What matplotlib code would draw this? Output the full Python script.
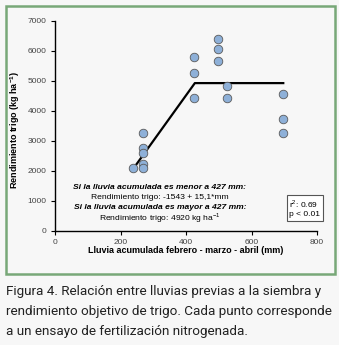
import matplotlib
matplotlib.use("Agg")
import matplotlib.pyplot as plt
from matplotlib.patches import Rectangle

# lluvia acumulada (mm) y rendimiento de trigo (kg/ha) por ensayo
lluvia = [237, 270, 270, 270, 270, 270, 425, 425, 425, 499, 499, 499, 524, 524, 697, 697, 697]
rendimiento = [2100, 3250, 2750, 2580, 2210, 2080, 5780, 5250, 4430, 6380, 6050, 5660, 4810, 4430, 4550, 3710, 3250]

# modelo lineal-meseta
quiebre = 427
intercepto = -1543
pendiente = 15.1
meseta = 4920
rango_modelo = [240, quiebre, 697]

x_ticks = [0, 200, 400, 600, 800]
y_ticks = [0, 1000, 2000, 3000, 4000, 5000, 6000, 7000]

caption = [
    "Figura 4. Relación entre lluvias previas a la siembra y",
    "rendimiento objetivo de trigo. Cada punto corresponde",
    "a un ensayo de fertilización nitrogenada.",
]

plt.rcParams["font.family"] = ["Liberation Sans", "DejaVu Sans"]

bg = "#f7f7f7"
W, H = 339, 345
fig = plt.figure(figsize=(W / 100, H / 100), dpi=100, facecolor=bg)

# marco verde del grafico
fig.patches.append(Rectangle((6 / W, 1 - 274 / H), 329 / W, 268 / H, transform=fig.transFigure,
                             fill=False, edgecolor="#78a878", linewidth=1.8))

ax = fig.add_axes([55 / W, 1 - 230.7 / H, 262 / W, 210 / H])
ax.set_facecolor(bg)

modelo = [intercepto + pendiente * rango_modelo[0], meseta, meseta]
ax.plot(rango_modelo, modelo, color="black", lw=1.6, zorder=2)
ax.scatter(lluvia, rendimiento, s=38, color="#8eb0d8", edgecolor="#5a5a5a", linewidth=0.6, zorder=3)

ax.set_xlim(0, 800)
ax.set_ylim(0, 7000)
ax.set_xticks(x_ticks)
ax.set_yticks(y_ticks)
ax.tick_params(labelsize=6, labelcolor="#444444", length=3, width=0.8, pad=3)
for s in ["top", "right"]:
    ax.spines[s].set_visible(False)
for s in ["left", "bottom"]:
    ax.spines[s].set_linewidth(1.0)

ax.set_xlabel("Lluvia acumulada febrero - marzo - abril (mm)", fontsize=6.5, fontweight="bold")
ax.set_ylabel("Rendimiento trigo (kg ha$^{\\mathregular{-1}}$)", fontsize=6.5, fontweight="bold")
ax.xaxis.set_label_coords(0.5, -0.075)
ax.yaxis.set_label_coords(-0.126, 0.48)

# ecuaciones del modelo
tx = 320
ax.text(tx, 1430, "Si la lluvia acumulada es menor a 427 mm:", fontsize=6.1, style="italic",
        fontweight="bold", ha="center", va="center")
ax.text(tx, 1095, "Rendimiento trigo: -1543 + 15,1*mm", fontsize=6.1, ha="center", va="center")
ax.text(tx, 765, "Si la lluvia acumulada es mayor a 427 mm:", fontsize=6.1, style="italic",
        fontweight="bold", ha="center", va="center")
ax.text(tx, 415, "Rendimiento trigo: 4920 kg ha$^{\\mathregular{-1}}$", fontsize=6.1, ha="center", va="center")

ax.text(715, 760, "r$^{\\mathregular{2}}$: 0.69\np < 0.01", fontsize=6, ha="left", va="center",
        linespacing=1.25,
        bbox=dict(boxstyle="square,pad=0.3", facecolor="white", edgecolor="#555555", linewidth=0.8))

for i, line in enumerate(caption):
    fig.text(6 / W, 1 - (291 + 20 * i) / H, line, fontsize=9.7, family=["Roboto", "DejaVu Sans"],
             color="#222222", ha="left", va="center")

fig.savefig("out.png", dpi=100, facecolor=bg)
